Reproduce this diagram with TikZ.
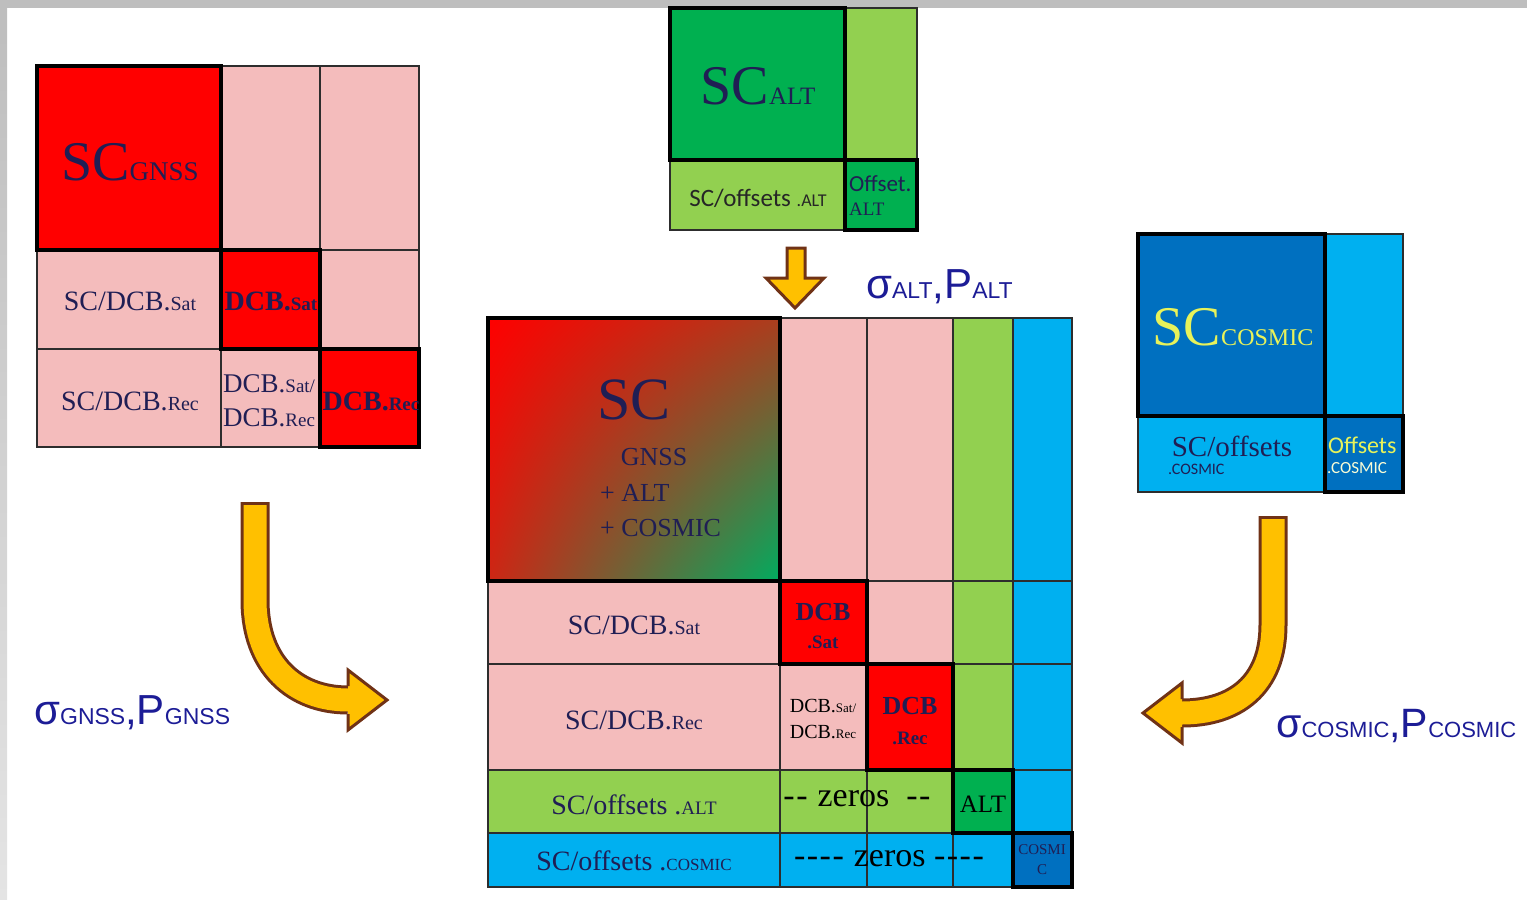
\documentclass[tikz,border=0pt]{standalone}
\usepackage{fontspec}
\usetikzlibrary{shadings}
\setmainfont{Liberation Serif}
\newfontfamily\arialf{Liberation Sans}
\newfontfamily\calibf{Carlito}
\newcommand\fsz[2]{{\fontsize{#1}{#1}\selectfont #2}}
\newcommand\hy{-\kern1.5pt}
\definecolor{pinkc}{RGB}{244,188,188}
\definecolor{redc}{RGB}{255,0,0}
\definecolor{altlight}{RGB}{146,208,80}
\definecolor{altdark}{RGB}{0,176,80}
\definecolor{coslight}{RGB}{0,176,240}
\definecolor{cosdark}{RGB}{0,112,192}
\definecolor{txtc}{RGB}{32,30,84}
\definecolor{sigc}{RGB}{28,28,150}
\definecolor{yelc}{RGB}{232,242,90}
\definecolor{arrfill}{RGB}{255,192,0}
\definecolor{arrline}{RGB}{112,50,22}
\definecolor{gridc}{RGB}{45,45,45}
\definecolor{bggray}{RGB}{190,190,190}
\definecolor{bglight}{RGB}{228,228,228}
\definecolor{scTR}{RGB}{170,62,30}
\definecolor{scBL}{RGB}{205,38,20}
\definecolor{scBR}{RGB}{0,172,96}
\begin{document}
\begin{tikzpicture}[x=1pt,y=-1pt,
	thin/.style={line width=1.2pt, draw=gridc},
	box/.style={line width=4pt, draw=black},
	lbl/.style={inner sep=0pt, text=txtc},
	sig/.style={inner sep=0pt, text=sigc, font=\arialf, anchor=base west},
	arrow/.style={fill=arrfill, draw=arrline, line width=3pt, line join=miter}]
	\useasboundingbox (0,0) rectangle (1527,900);
	\fill[bggray] (0,0) rectangle (1527,8);%Rand oben
	\shade[top color=bggray, bottom color=bglight] (0,8) rectangle (7,900);%Rand links
	
	%GNSS Matrix
	\fill[pinkc] (37,66) rectangle (419,447);
	\fill[redc] (37,66) rectangle (221,250);
	\fill[redc] (221,250) rectangle (320,349);
	\fill[redc] (320,349) rectangle (419,447);
	\draw[thin] (37,66) rectangle (419,447);
	\draw[thin] (221,66) -- (221,447);
	\draw[thin] (320,66) -- (320,447);
	\draw[thin] (37,250) -- (419,250);
	\draw[thin] (37,349) -- (419,349);
	\draw[box] (37,66) rectangle (221,250);
	\draw[box] (221,250) rectangle (320,349);
	\draw[box] (320,349) rectangle (419,447);
	\node[lbl] (gnssSC) at (130,162) {\fsz{56}{SC}\fsz{27}{GNSS}};
	\node[lbl] (gnssSatL) at (130,301) {\fsz{28}{SC/DCB.}\fsz{20}{Sat}};
	\node[lbl] (gnssRecL) at (130,401) {\fsz{28}{SC/DCB.}\fsz{20}{Rec}};
	\node[lbl] (gnssSat) at (271,301) {\bfseries\fsz{28}{DCB.}\fsz{19}{Sat}};
	\node[lbl, anchor=west] (gnssMixA) at (223,384) {\fsz{27}{DCB.}\fsz{19}{Sat/}};
	\node[lbl, anchor=west] (gnssMixB) at (223,418) {\fsz{27}{DCB.}\fsz{19}{Rec}};
	\node[lbl] (gnssRec) at (371,401) {\bfseries\fsz{28}{DCB.}\fsz{19}{Rec}};
	
	%ALT Matrix
	\fill[altlight] (670,8) rectangle (917,230);
	\fill[altdark] (670,8) rectangle (845,160);
	\fill[altdark] (845,160) rectangle (917,230);
	\draw[thin] (670,8) rectangle (917,230);
	\draw[thin] (845,8) -- (845,230);
	\draw[thin] (670,160) -- (917,160);
	\draw[box] (670,8) rectangle (845,160);
	\draw[box] (845,160) rectangle (917,230);
	\node[lbl] (altSC) at (758,86) {\fsz{56}{SC}\fsz{25}{ALT}};
	\node[lbl, text=black!85] (altOff) at (758,198) {\calibf\fsz{25}{SC/offsets }\fsz{18}{.ALT}};
	\node[lbl, anchor=west] (altOffA) at (849,184) {\calibf\fsz{23}{Offset.}};
	\node[lbl, anchor=west] (altOffB) at (849,209) {\fsz{19}{ALT}};
	
	%COSMIC Matrix
	\fill[coslight] (1138,234) rectangle (1403,492);
	\fill[cosdark] (1138,234) rectangle (1325,416);
	\fill[cosdark] (1325,416) rectangle (1403,492);
	\draw[thin] (1138,234) rectangle (1403,492);
	\draw[thin] (1325,234) -- (1325,492);
	\draw[thin] (1138,416) -- (1403,416);
	\draw[box] (1138,234) rectangle (1325,416);
	\draw[box] (1325,416) rectangle (1403,492);
	\node[lbl, text=yelc] (cosSC) at (1233,327) {\fsz{56}{SC}\fsz{24}{COSMIC}};
	\node[lbl] (cosOffA) at (1232,446) {\fsz{29}{SC/offsets}};
	\node[lbl, anchor=west] (cosOffB) at (1168,469) {\calibf\fsz{16}{.COSMIC}};
	\node[lbl, anchor=west, text=yelc] (cosOffC) at (1328,445) {\calibf\fsz{24}{Offsets}};
	\node[lbl, anchor=west, text=white!75!yelc] (cosOffD) at (1327,468) {\calibf\fsz{17}{.COSMIC}};
	
	%Gesamtmatrix
	\fill[pinkc] (488,318) rectangle (953,770);
	\fill[altlight] (953,318) rectangle (1013,833);
	\fill[altlight] (488,770) rectangle (953,833);
	\fill[coslight] (1013,318) rectangle (1072,887);
	\fill[coslight] (488,833) rectangle (1013,887);
	\shade[upper left=redc, upper right=scTR, lower left=scBL, lower right=scBR] (488,318) rectangle (780,581);
	\fill[redc] (780,581) rectangle (867,664);
	\fill[redc] (867,664) rectangle (953,770);
	\fill[altdark] (953,770) rectangle (1013,833);
	\fill[cosdark] (1013,833) rectangle (1072,887);
	\draw[thin] (488,318) rectangle (1072,887);
	\draw[thin] (780,318) -- (780,887);
	\draw[thin] (867,318) -- (867,887);
	\draw[thin] (953,318) -- (953,887);
	\draw[thin] (1013,318) -- (1013,887);
	\draw[thin] (488,581) -- (1072,581);
	\draw[thin] (488,664) -- (1072,664);
	\draw[thin] (488,770) -- (1072,770);
	\draw[thin] (488,833) -- (1072,833);
	\draw[box] (488,318) rectangle (780,581);
	\draw[box] (780,581) rectangle (867,664);
	\draw[box] (867,664) rectangle (953,770);
	\draw[box] (953,770) rectangle (1013,833);
	\draw[box] (1013,833) rectangle (1072,887);
	\node[lbl] (cenSC) at (634,400) {\fsz{60}{SC}};
	\node[lbl] (cenG) at (654,457) {\fsz{26}{GNSS}};
	\node[lbl, anchor=west] (cenA) at (600,493) {\fsz{26}{+ ALT}};
	\node[lbl, anchor=west] (cenC) at (600,528) {\fsz{26}{+ COSMIC}};
	\node[lbl] (cenSat) at (634,625) {\fsz{28}{SC/DCB.}\fsz{20}{Sat}};
	\node[lbl] (cenRec) at (634,720) {\fsz{28}{SC/DCB.}\fsz{20}{Rec}};
	\node[lbl] (cenAlt) at (634,805) {\fsz{28}{SC/offsets .}\fsz{19}{ALT}};
	\node[lbl] (cenCos) at (634,861) {\fsz{28}{SC/offsets .}\fsz{17}{COSMIC}};
	\node[lbl] (dcbSatA) at (823,612) {\bfseries\fsz{26}{DCB}};
	\node[lbl] (dcbSatB) at (823,642) {\bfseries\fsz{19}{.Sat}};
	\node[lbl, text=black] (dcbMixA) at (823,706) {\fsz{20}{DCB.}\fsz{13}{Sat/}};
	\node[lbl, text=black] (dcbMixB) at (823,732) {\fsz{20}{DCB.}\fsz{13}{Rec}};
	\node[lbl] (dcbRecA) at (910,706) {\bfseries\fsz{26}{DCB}};
	\node[lbl] (dcbRecB) at (910,738) {\bfseries\fsz{19}{.Rec}};
	\node[lbl, text=black] (zeroAlt) at (857,799) {\fsz{34}{\hy\hy\ zeros \ \hy-}};
	\node[lbl, text=black] (zeroCos) at (889,859) {\fsz{34}{\hy\hy\hy\hy\ zeros \hy\hy\hy-}};
	\node[lbl, text=black] (altBox) at (983,804) {\fsz{25}{ALT}};
	\node[lbl] (cosBoxA) at (1042,850) {\fsz{15}{COSMI}};
	\node[lbl] (cosBoxB) at (1042,870) {\fsz{15}{C}};
	
	%Pfeile
	\coordinate (gTop) at (255,502);
	\coordinate (gEnd) at (348,700);
	\draw[arrline, line width=29pt] (gTop) -- (255,600) .. controls (255,665) and (295,700) .. (gEnd);
	\filldraw[arrow] (348,686) -- (348,670) -- (387,700) -- (348,730) -- (348,714);
	\draw[arrfill, line width=23pt] (255,505) -- (255,600) .. controls (255,665) and (295,700) .. (gEnd) -- (354,700);
	
	\coordinate (cTop) at (1273,516);
	\coordinate (cEnd) at (1182,713);
	\draw[arrline, line width=29pt] (cTop) -- (1273,625) .. controls (1273,685) and (1235,713) .. (cEnd);
	\filldraw[arrow] (1182,699) -- (1182,683) -- (1143,713) -- (1182,743) -- (1182,727);
	\draw[arrfill, line width=23pt] (1273,519) -- (1273,625) .. controls (1273,685) and (1235,713) .. (cEnd) -- (1176,713);
	
	\filldraw[arrow] (787,248) -- (805,248) -- (805,278) -- (824,278) -- (795,308) -- (766,278) -- (787,278) -- cycle;%Pfeil ALT
	
	%Gewichte
	\node[sig] (sigGNSS) at (34,724) {\fsz{42}{σ}\fsz{23}{GNSS}\fsz{42}{,P}\fsz{23}{GNSS}};
	\node[sig] (sigALT) at (866,298) {\fsz{42}{σ}\fsz{23}{ALT}\fsz{42}{,P}\fsz{23}{ALT}};
	\node[sig] (sigCOS) at (1276,737) {\fsz{41}{σ}\fsz{22}{COSMIC}\fsz{41}{,P}\fsz{22}{COSMIC}};
\end{tikzpicture}
\end{document}
